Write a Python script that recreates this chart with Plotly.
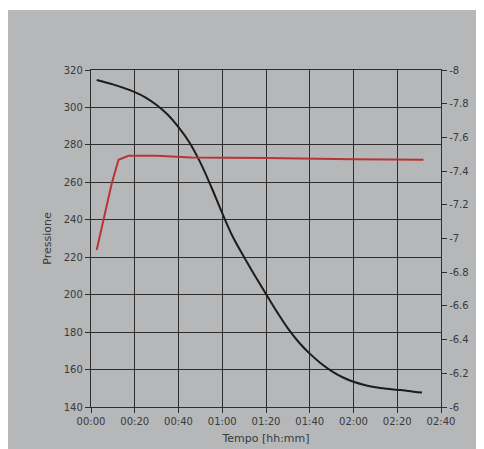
import plotly.graph_objects as go

# Time in minutes from start
black_t = [2.6, 10, 20, 25, 30, 35, 40, 45, 50, 55, 60, 65, 70, 75, 80, 85, 90, 95, 100, 105, 110, 115, 120, 125, 130, 135, 140, 145, 151.3]
black_p = [314.7, 312.3, 308.2, 305.3, 301.3, 296.2, 289.5, 281.3, 270.5, 257.5, 243.5, 230.5, 220.0, 210.0, 200.3, 190.8, 182.0, 174.6, 168.5, 163.4, 159.2, 155.9, 153.5, 151.8, 150.6, 149.8, 149.2, 148.6, 147.7]

red_t = [2.6, 6, 9.5, 12.6, 17.1, 30, 44, 46, 80, 100, 120, 152]
red_v = [-6.932, -7.13, -7.328, -7.467, -7.491, -7.491, -7.485, -7.48, -7.478, -7.472, -7.47, -7.467]

x_tickvals = [0, 20, 40, 60, 80, 100, 120, 140, 160]
x_ticktext = ["00:00", "00:20", "00:40", "01:00", "01:20", "01:40", "02:00", "02:20", "02:40"]
left_ticks = [140, 160, 180, 200, 220, 240, 260, 280, 300, 320]
right_ticks = [-8, -7.8, -7.6, -7.4, -7.2, -7, -6.8, -6.6, -6.4, -6.2, -6]
right_ticktext = ["-8", "-7.8", "-7.6", "-7.4", "-7.2", "-7", "-6.8", "-6.6", "-6.4", "-6.2", "-6"]

FONT = dict(family="DejaVu Sans", size=10, color="#3a3a3a")
TITLE_FONT = dict(family="DejaVu Sans", size=11, color="#3a3a3a")
GRID = "#2e2e2e"

fig = go.Figure()
fig.add_trace(go.Scatter(x=black_t, y=black_p, mode="lines",
                         line=dict(color="#1c1c1c", width=2, shape="spline", smoothing=1),
                         yaxis="y", showlegend=False))
fig.add_trace(go.Scatter(x=red_t, y=red_v, mode="lines", line=dict(color="#b83535", width=2),
                         yaxis="y2", showlegend=False))

# Page body adds an 8px offset; margins compensate so the plot area sits at x 91-441, y 70-407
fig.update_layout(
    width=484, height=449,
    margin=dict(l=83, r=51, t=62, b=50),
    paper_bgcolor="white",
    plot_bgcolor="#bdbfc1",
    font=FONT,
    shapes=[dict(type="rect", xref="paper", yref="paper", x0=-0.245, x1=1.2, y0=-0.3, y1=1.178,
                 fillcolor="#b5b7b9", line=dict(width=0), layer="below")],
    xaxis=dict(range=[0, 160], tickvals=x_tickvals, ticktext=x_ticktext, showgrid=True, gridcolor=GRID, gridwidth=1.3,
               showline=True, linecolor=GRID, linewidth=1.3, mirror=True, ticks="outside", ticklen=5, tickcolor=GRID,
               zeroline=False, title=dict(text="Tempo [hh:mm]", font=TITLE_FONT, standoff=8)),
    yaxis=dict(range=[140, 320], tickvals=left_ticks, showgrid=True, gridcolor=GRID, gridwidth=1.3,
               showline=True, linecolor=GRID, linewidth=1.3, ticks="outside", ticklen=5, tickcolor=GRID,
               zeroline=False, title=dict(text="Pressione", font=TITLE_FONT, standoff=9)),
    yaxis2=dict(range=[-6, -8], overlaying="y", side="right", tickvals=right_ticks, ticktext=right_ticktext,
                showgrid=False, showline=True, linecolor=GRID, linewidth=1.3, ticks="outside", ticklen=5,
                tickcolor=GRID, zeroline=False),
)

fig.write_html("out.html")
